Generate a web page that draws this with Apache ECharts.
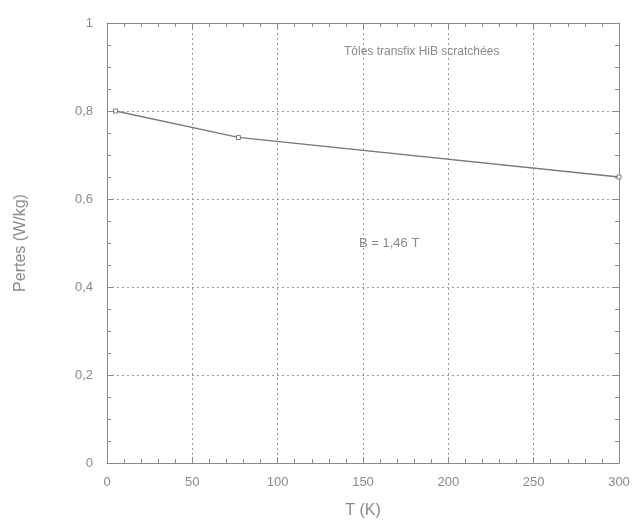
<!DOCTYPE html>
<html><head><meta charset="utf-8">
<script src="https://cdn.jsdelivr.net/npm/echarts@6/dist/echarts.min.js"></script>
<style>html,body{margin:0;padding:0;background:#fff}#c{width:634px;height:524px}</style>
</head><body><div id="c"></div>
<script>
const temps = [5, 77, 300];
const pertes = [0.80, 0.74, 0.65];
const xTicks = [0, 50, 100, 150, 200, 250, 300];
const yTicks = [0, 0.2, 0.4, 0.6, 0.8, 1];

const txt = '#8a8a8a';
const ax = '#8a8a8a';
const font = 'Liberation Sans, Arial, sans-serif';
const chart = echarts.init(document.getElementById('c'));
const fmtY = v => (v === 0 || v === 1) ? String(v) : String(Math.round(v*10)/10).replace('.', ',');
const baseX = {
  type: 'value', min: 0, max: 300, interval: 50,
  axisLine: {show: true, onZero: false, lineStyle: {color: ax, width: 1}},
  axisTick: {show: true, inside: true, length: 6, lineStyle: {color: ax}},
  minorTick: {show: true, splitNumber: 5, length: 4, lineStyle: {color: ax}},
};
const baseY = {
  type: 'value', min: 0, max: 1, interval: 0.2,
  axisLine: {show: true, onZero: false, lineStyle: {color: ax, width: 1}},
  axisTick: {show: true, inside: true, length: 6, lineStyle: {color: ax}},
  minorTick: {show: true, splitNumber: 4, length: 4, lineStyle: {color: ax}},
};
chart.setOption({
  animation: false,
  backgroundColor: '#fff',
  grid: {left: 107, right: 15, top: 23, bottom: 61},
  xAxis: [
    Object.assign({}, baseX, {
      position: 'bottom',
      name: 'T (K)', nameLocation: 'middle', nameGap: 40,
      nameTextStyle: {color: txt, fontSize: 16, fontFamily: font},
      axisLabel: {color: txt, fontSize: 13, fontFamily: font, margin: 13},
      splitLine: {show: true, lineStyle: {color: '#9a9a9a', type: [2, 3], width: 1}}
    }),
    Object.assign({}, baseX, {
      position: 'top', axisLabel: {show: false}, splitLine: {show: false}
    })
  ],
  yAxis: [
    Object.assign({}, baseY, {
      position: 'left',
      name: 'Pertes (W/kg)', nameLocation: 'middle', nameGap: 78,
      nameTextStyle: {color: txt, fontSize: 16, fontFamily: font},
      axisLabel: {color: txt, fontSize: 13, fontFamily: font, margin: 14, formatter: fmtY},
      splitLine: {show: true, lineStyle: {color: '#9a9a9a', type: [2, 3], width: 1}}
    }),
    Object.assign({}, baseY, {
      position: 'right', axisLabel: {show: false}, splitLine: {show: false}
    })
  ],
  series: [{
    type: 'line',
    data: temps.map((t, i) => [t, pertes[i]]),
    lineStyle: {color: '#7a7a7a', width: 1.3},
    symbol: 'rect', symbolSize: 4,
    itemStyle: {color: '#fff', borderColor: '#7a7a7a', borderWidth: 1},
    showSymbol: true
  }],
  graphic: [
    {type: 'text', left: 344, top: 46, style: {text: 'Tôles transfix HiB scratchées', fill: txt, fontSize: 12, fontFamily: font}},
    {type: 'text', left: 359, top: 237, style: {text: 'B = 1,46 T', fill: txt, fontSize: 13, fontFamily: font}}
  ]
});
</script></body></html>
